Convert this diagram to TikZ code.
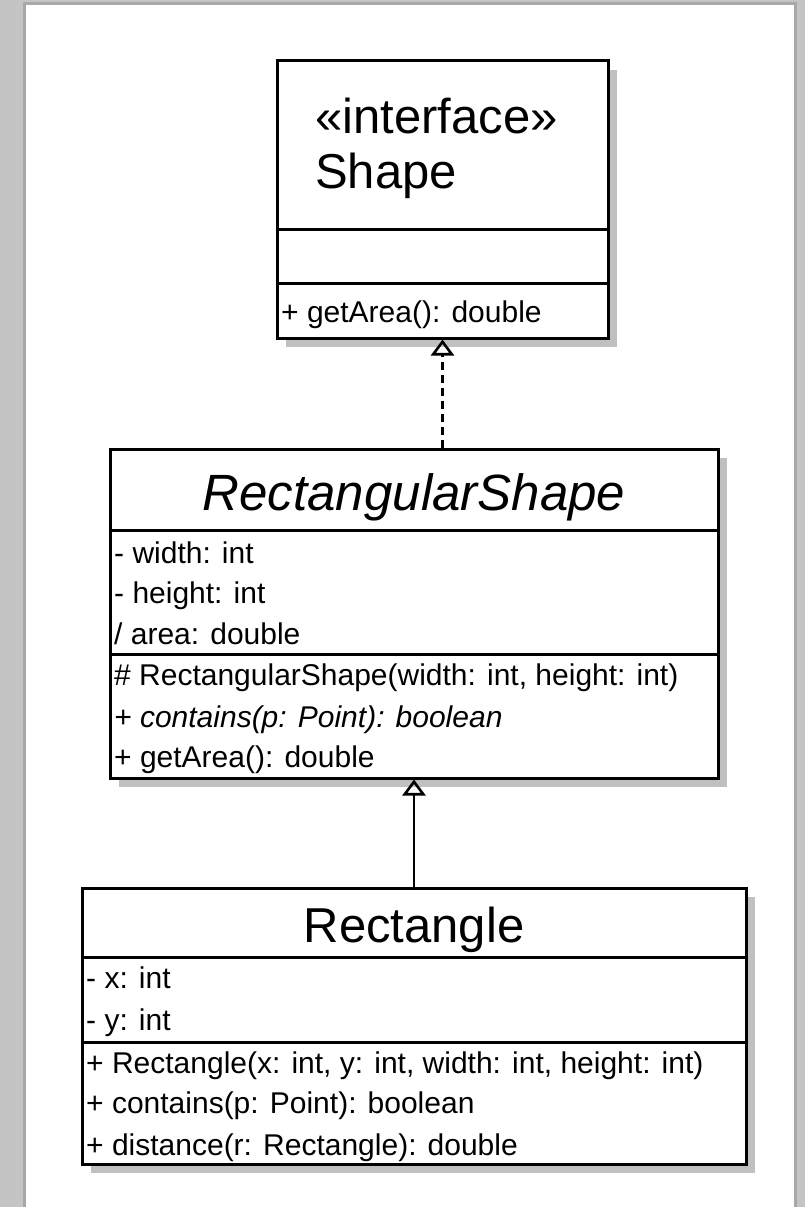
\documentclass[tikz,border=0pt]{standalone}
\usepackage{fontspec}
\setmainfont{Liberation Sans}
\usetikzlibrary{arrows.meta,shadows}
\definecolor{deskgray}{RGB}{196,196,196}
\definecolor{edgegray}{RGB}{168,168,168}
\definecolor{shadowgray}{RGB}{192,192,192}

\begin{document}
\begin{tikzpicture}[x=1pt,y=-1pt,
    umlbox/.style={draw, line width=3pt, fill=white, inner sep=0pt,
      drop shadow={shadow xshift=9pt, shadow yshift=-9pt, fill=shadowgray, opacity=1}},
    member/.style={anchor=base west, inner sep=0pt, font=\fontsize{30}{36}\selectfont},
    classname/.style={inner sep=0pt, font=\fontsize{49}{58}\selectfont},
    divider/.style={line width=3pt},
    realize/.style={line width=2.6pt, dash pattern=on 8pt off 5pt,
      -{Triangle[open,length=16pt,width=23pt]}},
    extend/.style={line width=2.6pt, -{Triangle[open,length=16pt,width=23pt]}}]
  \useasboundingbox (0,0) rectangle (805,1207);
  % desk and sheet
  \fill[deskgray] (0,0) rectangle (805,1207);
  \fill[edgegray] (23,2) rectangle (797,1207);
  \fill[white] (26,5) rectangle (794,1207);

  % interface Shape
  \node[umlbox, minimum width=331pt, minimum height=277pt] (shape) at (442.5,199.5) {};
  \draw[divider] (shape.west |- 0,229) -- (shape.east |- 0,229);
  \draw[divider] (shape.west |- 0,283) -- (shape.east |- 0,283);
  \node[classname, anchor=base west] (shapestereo) at (315,133) {«interface»};
  \node[classname, anchor=base west] (shapename) at (315,188) {Shape};
  \node[member] (shapeop1) at (281,322) {+ getArea(): double};

  % abstract class RectangularShape
  \node[umlbox, minimum width=608pt, minimum height=329pt] (rshape) at (414,613.5) {};
  \draw[divider] (rshape.west |- 0,530) -- (rshape.east |- 0,530);
  \draw[divider] (rshape.west |- 0,654) -- (rshape.east |- 0,654);
  \node[classname, anchor=base, font=\fontsize{51}{60}\itshape] (rshapename) at (414,510) {RectangularShape};
  \node[member] (rshapeattr1) at (114,563) {- width: int};
  \node[member] (rshapeattr2) at (114,603) {- height: int};
  \node[member] (rshapeattr3) at (114,644) {/ area: double};
  \node[member] (rshapeop1) at (114,685) {\# RectangularShape(width: int, height: int)};
  \node[member] (rshapeop2) at (114,727) {\itshape + contains(p: Point): boolean};
  \node[member] (rshapeop3) at (114,767) {+ getArea(): double};

  % class Rectangle
  \node[umlbox, minimum width=664pt, minimum height=276pt] (rect) at (414,1026) {};
  \draw[divider] (rect.west |- 0,957) -- (rect.east |- 0,957);
  \draw[divider] (rect.west |- 0,1042) -- (rect.east |- 0,1042);
  \node[classname, anchor=base] (rectname) at (414,942) {Rectangle};
  \node[member] (rectattr1) at (86,988) {- x: int};
  \node[member] (rectattr2) at (86,1030) {- y: int};
  \node[member] (rectop1) at (86,1073) {+ Rectangle(x: int, y: int, width: int, height: int)};
  \node[member] (rectop2) at (86,1113) {+ contains(p: Point): boolean};
  \node[member] (rectop3) at (86,1155) {+ distance(r: Rectangle): double};

  % realization and generalization
  \draw[realize] (rshape.north -| shape.south) -- (shape.south);
  \draw[extend] (rect.north) -- (rshape.south);
\end{tikzpicture}
\end{document}
